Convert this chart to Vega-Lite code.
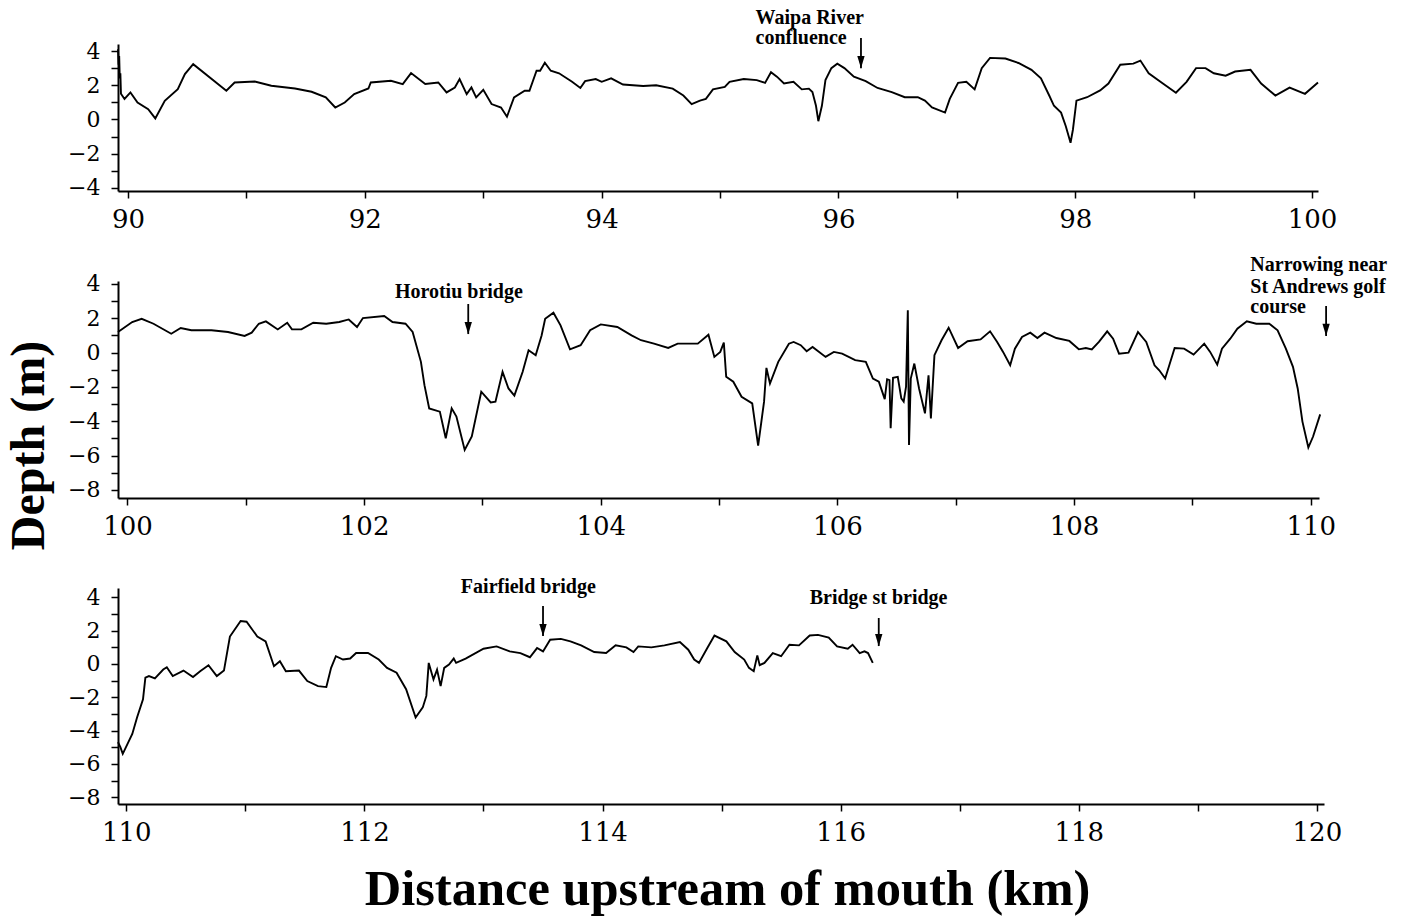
{
  "$schema": "https://vega.github.io/schema/vega-lite/v6.json",
  "background": "white",
  "padding": {"left": 5, "top": 7, "right": 5, "bottom": 5},
  "bounds": "flush",
  "spacing": 90,
  "config": {
    "view": {"stroke": null},
    "axis": {"grid": false, "domainColor": "black", "domainWidth": 2, "tickColor": "black", "tickWidth": 1.5, "tickSize": 7, "labelColor": "black", "labelFont": "DejaVu Serif", "titleColor": "black", "labelFlush": false, "labelOverlap": false}
  },
  "datasets": {
    "profile": [
      {"p":1,"km":89.915,"d":4.1},{"p":1,"km":89.92,"d":3.2},{"p":1,"km":89.925,"d":3.7},{"p":1,"km":89.93,"d":2.4},{"p":1,"km":89.935,"d":2.7},{"p":1,"km":89.94,"d":1.5},{"p":1,"km":89.97,"d":1.2},{"p":1,"km":90.02,"d":1.58},{"p":1,"km":90.08,"d":0.99},{"p":1,"km":90.17,"d":0.6},{"p":1,"km":90.23,"d":0.06},{"p":1,"km":90.31,"d":1.09},{"p":1,"km":90.42,"d":1.77},{"p":1,"km":90.48,"d":2.65},{"p":1,"km":90.55,"d":3.23},{"p":1,"km":90.83,"d":1.68},{"p":1,"km":90.9,"d":2.16},{"p":1,"km":91.07,"d":2.22},{"p":1,"km":91.21,"d":1.97},{"p":1,"km":91.41,"d":1.81},{"p":1,"km":91.55,"d":1.62},{"p":1,"km":91.67,"d":1.29},{"p":1,"km":91.75,"d":0.7},{"p":1,"km":91.83,"d":0.99},{"p":1,"km":91.91,"d":1.48},{"p":1,"km":92.03,"d":1.81},{"p":1,"km":92.05,"d":2.16},{"p":1,"km":92.22,"d":2.26},{"p":1,"km":92.32,"d":2.07},{"p":1,"km":92.39,"d":2.71},{"p":1,"km":92.51,"d":2.07},{"p":1,"km":92.62,"d":2.16},{"p":1,"km":92.69,"d":1.58},{"p":1,"km":92.76,"d":1.87},{"p":1,"km":92.8,"d":2.36},{"p":1,"km":92.86,"d":1.48},{"p":1,"km":92.9,"d":1.87},{"p":1,"km":92.94,"d":1.29},{"p":1,"km":93.0,"d":1.73},{"p":1,"km":93.07,"d":0.9},{"p":1,"km":93.15,"d":0.7},{"p":1,"km":93.2,"d":0.16},{"p":1,"km":93.26,"d":1.29},{"p":1,"km":93.35,"d":1.68},{"p":1,"km":93.39,"d":1.68},{"p":1,"km":93.45,"d":2.85},{"p":1,"km":93.48,"d":2.85},{"p":1,"km":93.52,"d":3.32},{"p":1,"km":93.57,"d":2.85},{"p":1,"km":93.64,"d":2.7},{"p":1,"km":93.75,"d":2.2},{"p":1,"km":93.82,"d":1.84},{"p":1,"km":93.86,"d":2.24},{"p":1,"km":93.95,"d":2.36},{"p":1,"km":94.0,"d":2.2},{"p":1,"km":94.08,"d":2.4},{"p":1,"km":94.18,"d":2.04},{"p":1,"km":94.35,"d":1.96},{"p":1,"km":94.46,"d":2.0},{"p":1,"km":94.6,"d":1.8},{"p":1,"km":94.69,"d":1.4},{"p":1,"km":94.76,"d":0.9},{"p":1,"km":94.83,"d":1.1},{"p":1,"km":94.88,"d":1.2},{"p":1,"km":94.94,"d":1.76},{"p":1,"km":95.04,"d":1.9},{"p":1,"km":95.08,"d":2.2},{"p":1,"km":95.2,"d":2.36},{"p":1,"km":95.31,"d":2.3},{"p":1,"km":95.38,"d":2.14},{"p":1,"km":95.43,"d":2.76},{"p":1,"km":95.48,"d":2.5},{"p":1,"km":95.54,"d":2.1},{"p":1,"km":95.62,"d":2.2},{"p":1,"km":95.69,"d":1.76},{"p":1,"km":95.75,"d":1.8},{"p":1,"km":95.78,"d":1.6},{"p":1,"km":95.81,"d":0.8},{"p":1,"km":95.83,"d":-0.1},{"p":1,"km":95.86,"d":0.8},{"p":1,"km":95.89,"d":2.3},{"p":1,"km":95.94,"d":3.0},{"p":1,"km":95.99,"d":3.26},{"p":1,"km":96.05,"d":3.0},{"p":1,"km":96.13,"d":2.5},{"p":1,"km":96.23,"d":2.24},{"p":1,"km":96.33,"d":1.84},{"p":1,"km":96.45,"d":1.6},{"p":1,"km":96.56,"d":1.3},{"p":1,"km":96.67,"d":1.3},{"p":1,"km":96.73,"d":1.1},{"p":1,"km":96.79,"d":0.7},{"p":1,"km":96.9,"d":0.4},{"p":1,"km":96.94,"d":1.2},{"p":1,"km":97.01,"d":2.14},{"p":1,"km":97.08,"d":2.2},{"p":1,"km":97.15,"d":1.76},{"p":1,"km":97.21,"d":3.0},{"p":1,"km":97.28,"d":3.6},{"p":1,"km":97.41,"d":3.56},{"p":1,"km":97.52,"d":3.3},{"p":1,"km":97.63,"d":2.9},{"p":1,"km":97.71,"d":2.4},{"p":1,"km":97.78,"d":1.4},{"p":1,"km":97.82,"d":0.8},{"p":1,"km":97.88,"d":0.4},{"p":1,"km":97.92,"d":-0.4},{"p":1,"km":97.96,"d":-1.36},{"p":1,"km":97.98,"d":-0.6},{"p":1,"km":98.01,"d":1.1},{"p":1,"km":98.1,"d":1.3},{"p":1,"km":98.21,"d":1.7},{"p":1,"km":98.28,"d":2.1},{"p":1,"km":98.38,"d":3.2},{"p":1,"km":98.49,"d":3.26},{"p":1,"km":98.55,"d":3.44},{"p":1,"km":98.62,"d":2.7},{"p":1,"km":98.74,"d":2.1},{"p":1,"km":98.85,"d":1.56},{"p":1,"km":98.94,"d":2.2},{"p":1,"km":99.02,"d":3.0},{"p":1,"km":99.1,"d":3.0},{"p":1,"km":99.17,"d":2.7},{"p":1,"km":99.27,"d":2.56},{"p":1,"km":99.35,"d":2.8},{"p":1,"km":99.48,"d":2.9},{"p":1,"km":99.57,"d":2.1},{"p":1,"km":99.69,"d":1.4},{"p":1,"km":99.81,"d":1.86},{"p":1,"km":99.94,"d":1.5},{"p":1,"km":100.05,"d":2.16},
      {"p":2,"km":99.92,"d":1.2},{"p":2,"km":100.04,"d":1.78},{"p":2,"km":100.12,"d":1.97},{"p":2,"km":100.22,"d":1.68},{"p":2,"km":100.37,"d":1.1},{"p":2,"km":100.45,"d":1.43},{"p":2,"km":100.54,"d":1.3},{"p":2,"km":100.71,"d":1.3},{"p":2,"km":100.85,"d":1.2},{"p":2,"km":100.99,"d":0.97},{"p":2,"km":101.05,"d":1.16},{"p":2,"km":101.11,"d":1.68},{"p":2,"km":101.17,"d":1.82},{"p":2,"km":101.27,"d":1.35},{"p":2,"km":101.35,"d":1.74},{"p":2,"km":101.39,"d":1.35},{"p":2,"km":101.47,"d":1.35},{"p":2,"km":101.57,"d":1.74},{"p":2,"km":101.68,"d":1.68},{"p":2,"km":101.79,"d":1.78},{"p":2,"km":101.87,"d":1.93},{"p":2,"km":101.94,"d":1.49},{"p":2,"km":101.99,"d":2.01},{"p":2,"km":102.17,"d":2.13},{"p":2,"km":102.24,"d":1.78},{"p":2,"km":102.35,"d":1.68},{"p":2,"km":102.41,"d":1.2},{"p":2,"km":102.48,"d":-0.54},{"p":2,"km":102.51,"d":-1.9},{"p":2,"km":102.55,"d":-3.25},{"p":2,"km":102.64,"d":-3.44},{"p":2,"km":102.69,"d":-4.99},{"p":2,"km":102.74,"d":-3.25},{"p":2,"km":102.78,"d":-3.73},{"p":2,"km":102.85,"d":-5.67},{"p":2,"km":102.91,"d":-4.89},{"p":2,"km":102.99,"d":-2.28},{"p":2,"km":103.07,"d":-2.9},{"p":2,"km":103.11,"d":-2.86},{"p":2,"km":103.17,"d":-1.12},{"p":2,"km":103.22,"d":-2.09},{"p":2,"km":103.27,"d":-2.51},{"p":2,"km":103.34,"d":-1.12},{"p":2,"km":103.39,"d":0.14},{"p":2,"km":103.45,"d":-0.15},{"p":2,"km":103.5,"d":1.0},{"p":2,"km":103.53,"d":1.97},{"p":2,"km":103.6,"d":2.32},{"p":2,"km":103.66,"d":1.59},{"p":2,"km":103.74,"d":0.19},{"p":2,"km":103.83,"d":0.43},{"p":2,"km":103.91,"d":1.3},{"p":2,"km":104.0,"d":1.64},{"p":2,"km":104.14,"d":1.49},{"p":2,"km":104.26,"d":1.0},{"p":2,"km":104.34,"d":0.72},{"p":2,"km":104.45,"d":0.52},{"p":2,"km":104.57,"d":0.27},{"p":2,"km":104.65,"d":0.52},{"p":2,"km":104.82,"d":0.52},{"p":2,"km":104.91,"d":1.04},{"p":2,"km":104.96,"d":-0.25},{"p":2,"km":105.01,"d":0.04},{"p":2,"km":105.04,"d":0.58},{"p":2,"km":105.06,"d":-1.41},{"p":2,"km":105.12,"d":-1.7},{"p":2,"km":105.19,"d":-2.57},{"p":2,"km":105.28,"d":-2.96},{"p":2,"km":105.33,"d":-5.42},{"p":2,"km":105.38,"d":-2.86},{"p":2,"km":105.4,"d":-0.89},{"p":2,"km":105.43,"d":-1.8},{"p":2,"km":105.5,"d":-0.54},{"p":2,"km":105.59,"d":0.52},{"p":2,"km":105.63,"d":0.62},{"p":2,"km":105.69,"d":0.43},{"p":2,"km":105.74,"d":0.08},{"p":2,"km":105.79,"d":0.33},{"p":2,"km":105.9,"d":-0.25},{"p":2,"km":105.97,"d":0.04},{"p":2,"km":106.04,"d":-0.06},{"p":2,"km":106.15,"d":-0.44},{"p":2,"km":106.24,"d":-0.54},{"p":2,"km":106.3,"d":-1.51},{"p":2,"km":106.35,"d":-1.7},{"p":2,"km":106.4,"d":-2.71},{"p":2,"km":106.42,"d":-1.55},{"p":2,"km":106.44,"d":-1.6},{"p":2,"km":106.45,"d":-4.41},{"p":2,"km":106.47,"d":-1.47},{"p":2,"km":106.51,"d":-1.41},{"p":2,"km":106.54,"d":-2.67},{"p":2,"km":106.56,"d":-2.86},{"p":2,"km":106.58,"d":-1.99},{"p":2,"km":106.595,"d":2.46},{"p":2,"km":106.605,"d":-5.38},{"p":2,"km":106.62,"d":-1.51},{"p":2,"km":106.65,"d":-0.64},{"p":2,"km":106.69,"d":-2.09},{"p":2,"km":106.74,"d":-3.54},{"p":2,"km":106.77,"d":-1.32},{"p":2,"km":106.79,"d":-3.83},{"p":2,"km":106.82,"d":-0.15},{"p":2,"km":106.88,"d":0.72},{"p":2,"km":106.94,"d":1.45},{"p":2,"km":107.02,"d":0.27},{"p":2,"km":107.1,"d":0.66},{"p":2,"km":107.21,"d":0.77},{"p":2,"km":107.29,"d":1.24},{"p":2,"km":107.35,"d":0.62},{"p":2,"km":107.4,"d":0.04},{"p":2,"km":107.46,"d":-0.74},{"p":2,"km":107.5,"d":0.23},{"p":2,"km":107.56,"d":0.91},{"p":2,"km":107.63,"d":1.16},{"p":2,"km":107.69,"d":0.85},{"p":2,"km":107.75,"d":1.16},{"p":2,"km":107.85,"d":0.85},{"p":2,"km":107.96,"d":0.68},{"p":2,"km":108.04,"d":0.19},{"p":2,"km":108.1,"d":0.27},{"p":2,"km":108.15,"d":0.19},{"p":2,"km":108.21,"d":0.62},{"p":2,"km":108.28,"d":1.24},{"p":2,"km":108.33,"d":0.81},{"p":2,"km":108.38,"d":-0.06},{"p":2,"km":108.46,"d":0.0},{"p":2,"km":108.54,"d":1.2},{"p":2,"km":108.61,"d":0.62},{"p":2,"km":108.68,"d":-0.74},{"p":2,"km":108.72,"d":-1.03},{"p":2,"km":108.77,"d":-1.51},{"p":2,"km":108.85,"d":0.27},{"p":2,"km":108.93,"d":0.23},{"p":2,"km":109.01,"d":-0.12},{"p":2,"km":109.1,"d":0.52},{"p":2,"km":109.15,"d":0.04},{"p":2,"km":109.21,"d":-0.7},{"p":2,"km":109.25,"d":0.23},{"p":2,"km":109.32,"d":0.81},{"p":2,"km":109.38,"d":1.39},{"p":2,"km":109.46,"d":1.82},{"p":2,"km":109.54,"d":1.68},{"p":2,"km":109.65,"d":1.68},{"p":2,"km":109.72,"d":1.3},{"p":2,"km":109.79,"d":0.23},{"p":2,"km":109.85,"d":-0.83},{"p":2,"km":109.89,"d":-2.09},{"p":2,"km":109.93,"d":-4.02},{"p":2,"km":109.98,"d":-5.53},{"p":2,"km":110.02,"d":-4.89},{"p":2,"km":110.08,"d":-3.6},
      {"p":3,"km":109.93,"d":-4.69},{"p":3,"km":109.95,"d":-4.99},{"p":3,"km":109.97,"d":-5.39},{"p":3,"km":110.01,"d":-4.79},{"p":3,"km":110.05,"d":-4.2},{"p":3,"km":110.09,"d":-3.21},{"p":3,"km":110.14,"d":-2.12},{"p":3,"km":110.16,"d":-0.83},{"p":3,"km":110.19,"d":-0.73},{"p":3,"km":110.24,"d":-0.87},{"p":3,"km":110.31,"d":-0.34},{"p":3,"km":110.34,"d":-0.2},{"p":3,"km":110.39,"d":-0.73},{"p":3,"km":110.48,"d":-0.4},{"p":3,"km":110.56,"d":-0.79},{"p":3,"km":110.62,"d":-0.44},{"p":3,"km":110.69,"d":-0.08},{"p":3,"km":110.76,"d":-0.73},{"p":3,"km":110.82,"d":-0.4},{"p":3,"km":110.87,"d":1.64},{"p":3,"km":110.96,"d":2.57},{"p":3,"km":111.01,"d":2.53},{"p":3,"km":111.1,"d":1.64},{"p":3,"km":111.17,"d":1.35},{"p":3,"km":111.24,"d":-0.14},{"p":3,"km":111.29,"d":0.16},{"p":3,"km":111.34,"d":-0.44},{"p":3,"km":111.45,"d":-0.4},{"p":3,"km":111.52,"d":-1.03},{"p":3,"km":111.61,"d":-1.33},{"p":3,"km":111.68,"d":-1.39},{"p":3,"km":111.72,"d":-0.24},{"p":3,"km":111.76,"d":0.46},{"p":3,"km":111.82,"d":0.26},{"p":3,"km":111.88,"d":0.32},{"p":3,"km":111.93,"d":0.65},{"p":3,"km":112.03,"d":0.65},{"p":3,"km":112.12,"d":0.26},{"p":3,"km":112.19,"d":-0.24},{"p":3,"km":112.27,"d":-0.53},{"p":3,"km":112.35,"d":-1.52},{"p":3,"km":112.43,"d":-3.21},{"p":3,"km":112.49,"d":-2.61},{"p":3,"km":112.52,"d":-1.92},{"p":3,"km":112.54,"d":0.06},{"p":3,"km":112.58,"d":-0.93},{"p":3,"km":112.61,"d":-0.34},{"p":3,"km":112.64,"d":-1.33},{"p":3,"km":112.67,"d":-0.24},{"p":3,"km":112.71,"d":-0.04},{"p":3,"km":112.75,"d":0.32},{"p":3,"km":112.77,"d":0.06},{"p":3,"km":112.85,"d":0.32},{"p":3,"km":113.0,"d":0.91},{"p":3,"km":113.11,"d":1.05},{"p":3,"km":113.22,"d":0.75},{"p":3,"km":113.31,"d":0.65},{"p":3,"km":113.39,"d":0.4},{"p":3,"km":113.45,"d":0.95},{"p":3,"km":113.5,"d":0.75},{"p":3,"km":113.56,"d":1.45},{"p":3,"km":113.65,"d":1.5},{"p":3,"km":113.73,"d":1.35},{"p":3,"km":113.82,"d":1.11},{"p":3,"km":113.93,"d":0.71},{"p":3,"km":114.03,"d":0.65},{"p":3,"km":114.11,"d":1.11},{"p":3,"km":114.2,"d":0.99},{"p":3,"km":114.26,"d":0.71},{"p":3,"km":114.3,"d":1.05},{"p":3,"km":114.41,"d":0.99},{"p":3,"km":114.52,"d":1.11},{"p":3,"km":114.65,"d":1.31},{"p":3,"km":114.72,"d":0.85},{"p":3,"km":114.77,"d":0.26},{"p":3,"km":114.81,"d":0.06},{"p":3,"km":114.88,"d":0.95},{"p":3,"km":114.94,"d":1.7},{"p":3,"km":115.04,"d":1.35},{"p":3,"km":115.11,"d":0.71},{"p":3,"km":115.19,"d":0.26},{"p":3,"km":115.23,"d":-0.24},{"p":3,"km":115.27,"d":-0.44},{"p":3,"km":115.3,"d":0.51},{"p":3,"km":115.32,"d":-0.08},{"p":3,"km":115.36,"d":0.06},{"p":3,"km":115.43,"d":0.65},{"p":3,"km":115.5,"d":0.46},{"p":3,"km":115.57,"d":1.15},{"p":3,"km":115.65,"d":1.11},{"p":3,"km":115.74,"d":1.7},{"p":3,"km":115.81,"d":1.74},{"p":3,"km":115.9,"d":1.58},{"p":3,"km":115.97,"d":1.05},{"p":3,"km":116.06,"d":0.91},{"p":3,"km":116.1,"d":1.15},{"p":3,"km":116.16,"d":0.65},{"p":3,"km":116.2,"d":0.75},{"p":3,"km":116.23,"d":0.65},{"p":3,"km":116.27,"d":0.06}
    ],
    "labels": [
      {"p":1,"km":95.3,"d":5.58,"t":"Waipa River"},
      {"p":1,"km":95.3,"d":4.41,"t":"confluence"},
      {"p":2,"km":102.26,"d":3.18,"t":"Horotiu bridge"},
      {"p":2,"km":109.49,"d":4.75,"t":"Narrowing near"},
      {"p":2,"km":109.49,"d":3.47,"t":"St Andrews golf"},
      {"p":2,"km":109.49,"d":2.31,"t":"course"},
      {"p":3,"km":112.81,"d":4.25,"t":"Fairfield bridge"},
      {"p":3,"km":115.74,"d":3.59,"t":"Bridge st bridge"}
    ],
    "arrows": [
      {"p":1,"km":96.19,"top":4.76,"bot":3.0},
      {"p":2,"km":102.88,"top":2.83,"bot":1.08},
      {"p":2,"km":110.13,"top":2.71,"bot":0.97},
      {"p":3,"km":113.5,"top":3.47,"bot":1.67},
      {"p":3,"km":116.32,"top":2.75,"bot":1.07}
    ]
  },
  "vconcat": [
    {
      "width": 1200, "height": 147,
      "layer": [
        {"data": {"name": "profile"}, "transform": [{"filter": "datum.p === 1"}],
         "mark": {"type": "line", "color": "black", "strokeWidth": 1.9},
         "encoding": {
           "x": {"field": "km", "type": "quantitative", "scale": {"domain": [89.915, 100.05], "nice": false, "zero": false},
                 "axis": {"title": null, "format": "d", "tickCount": 50, "values": [90,91,92,93,94,95,96,97,98,99,100], "labelExpr": "datum.value % 2 === 0 ? datum.label : ''", "labelFontSize": 26, "labelPadding": 8, "labelOverlap": false}},
           "y": {"field": "d", "type": "quantitative", "scale": {"domain": [-4.18, 4.41], "nice": false, "zero": false},
                 "axis": {"title": null, "format": "d", "tickCount": 50, "values": [-4,-3,-2,-1,0,1,2,3,4], "labelExpr": "datum.value % 2 === 0 ? datum.label : ''", "labelFontSize": 22, "labelPadding": 11, "labelOverlap": false}}
         }},
        {"data": {"name": "arrows"}, "transform": [{"filter": "datum.p === 1"}],
         "mark": {"type": "rule", "color": "black", "strokeWidth": 1.8},
         "encoding": {"x": {"field": "km", "type": "quantitative"}, "y": {"field": "top", "type": "quantitative"}, "y2": {"field": "bot"}}},
        {"data": {"name": "arrows"}, "transform": [{"filter": "datum.p === 1"}],
         "mark": {"type": "point", "shape": "M -0.6 -1 L 0.6 -1 L 0 1 Z", "filled": true, "color": "black", "opacity": 1, "size": 150, "yOffset": -6},
         "encoding": {"x": {"field": "km", "type": "quantitative"}, "y": {"field": "bot", "type": "quantitative"}}},
        {"data": {"name": "labels"}, "transform": [{"filter": "datum.p === 1"}],
         "mark": {"type": "text", "align": "left", "baseline": "alphabetic", "font": "Liberation Serif", "fontWeight": "bold", "fontSize": 20, "color": "black"},
         "encoding": {"x": {"field": "km", "type": "quantitative"}, "y": {"field": "d", "type": "quantitative"}, "text": {"field": "t"}}}
      ]
    },
    {
      "width": 1201, "height": 217,
      "layer": [
        {"data": {"name": "profile"}, "transform": [{"filter": "datum.p === 2"}],
         "mark": {"type": "line", "color": "black", "strokeWidth": 1.9},
         "encoding": {
           "x": {"field": "km", "type": "quantitative", "scale": {"domain": [99.92, 110.07], "nice": false, "zero": false},
                 "axis": {"title": null, "format": "d", "tickCount": 50, "values": [100,101,102,103,104,105,106,107,108,109,110], "labelExpr": "datum.value % 2 === 0 ? datum.label : ''", "labelFontSize": 26, "labelPadding": 8, "labelOverlap": false}},
           "y": {"field": "d", "type": "quantitative", "title": "Depth (m)", "scale": {"domain": [-8.47, 4.17], "nice": false, "zero": false},
                 "axis": {"title": "Depth (m)", "titleFont": "Liberation Serif", "titleFontWeight": "bold", "titleFontSize": 48, "titleAngle": 270, "titleAlign": "center", "titleBaseline": "alphabetic", "titleX": -75, "titleY": 164,
                          "format": "d", "tickCount": 50, "values": [-8,-7,-6,-5,-4,-3,-2,-1,0,1,2,3,4], "labelExpr": "datum.value % 2 === 0 ? datum.label : ''", "labelFontSize": 22, "labelPadding": 11, "labelOverlap": false}}
         }},
        {"data": {"name": "arrows"}, "transform": [{"filter": "datum.p === 2"}],
         "mark": {"type": "rule", "color": "black", "strokeWidth": 1.8},
         "encoding": {"x": {"field": "km", "type": "quantitative"}, "y": {"field": "top", "type": "quantitative"}, "y2": {"field": "bot"}}},
        {"data": {"name": "arrows"}, "transform": [{"filter": "datum.p === 2"}],
         "mark": {"type": "point", "shape": "M -0.6 -1 L 0.6 -1 L 0 1 Z", "filled": true, "color": "black", "opacity": 1, "size": 150, "yOffset": -6},
         "encoding": {"x": {"field": "km", "type": "quantitative"}, "y": {"field": "bot", "type": "quantitative"}}},
        {"data": {"name": "labels"}, "transform": [{"filter": "datum.p === 2"}],
         "mark": {"type": "text", "align": "left", "baseline": "alphabetic", "font": "Liberation Serif", "fontWeight": "bold", "fontSize": 20, "color": "black"},
         "encoding": {"x": {"field": "km", "type": "quantitative"}, "y": {"field": "d", "type": "quantitative"}, "text": {"field": "t"}}}
      ]
    },
    {
      "width": 1206, "height": 216,
      "layer": [
        {"data": {"name": "profile"}, "transform": [{"filter": "datum.p === 3"}],
         "mark": {"type": "line", "color": "black", "strokeWidth": 1.9},
         "encoding": {
           "x": {"field": "km", "type": "quantitative", "title": "Distance upstream of mouth (km)", "scale": {"domain": [109.93, 120.06], "nice": false, "zero": false},
                 "axis": {"title": "Distance upstream of mouth (km)", "titleFont": "Liberation Serif", "titleFontWeight": "bold", "titleFontSize": 50.5, "titleBaseline": "alphabetic", "titleY": 100, "titleX": 609,
                          "format": "d", "tickCount": 50, "values": [110,111,112,113,114,115,116,117,118,119,120], "labelExpr": "datum.value % 2 === 0 ? datum.label : ''", "labelFontSize": 26, "labelPadding": 8, "labelOverlap": false}},
           "y": {"field": "d", "type": "quantitative", "scale": {"domain": [-8.4, 4.55], "nice": false, "zero": false},
                 "axis": {"title": null, "format": "d", "tickCount": 50, "values": [-8,-7,-6,-5,-4,-3,-2,-1,0,1,2,3,4], "labelExpr": "datum.value % 2 === 0 ? datum.label : ''", "labelFontSize": 22, "labelPadding": 11, "labelOverlap": false}}
         }},
        {"data": {"name": "arrows"}, "transform": [{"filter": "datum.p === 3"}],
         "mark": {"type": "rule", "color": "black", "strokeWidth": 1.8},
         "encoding": {"x": {"field": "km", "type": "quantitative"}, "y": {"field": "top", "type": "quantitative"}, "y2": {"field": "bot"}}},
        {"data": {"name": "arrows"}, "transform": [{"filter": "datum.p === 3"}],
         "mark": {"type": "point", "shape": "M -0.6 -1 L 0.6 -1 L 0 1 Z", "filled": true, "color": "black", "opacity": 1, "size": 150, "yOffset": -6},
         "encoding": {"x": {"field": "km", "type": "quantitative"}, "y": {"field": "bot", "type": "quantitative"}}},
        {"data": {"name": "labels"}, "transform": [{"filter": "datum.p === 3"}],
         "mark": {"type": "text", "align": "left", "baseline": "alphabetic", "font": "Liberation Serif", "fontWeight": "bold", "fontSize": 20, "color": "black"},
         "encoding": {"x": {"field": "km", "type": "quantitative"}, "y": {"field": "d", "type": "quantitative"}, "text": {"field": "t"}}}
      ]
    }
  ]
}
